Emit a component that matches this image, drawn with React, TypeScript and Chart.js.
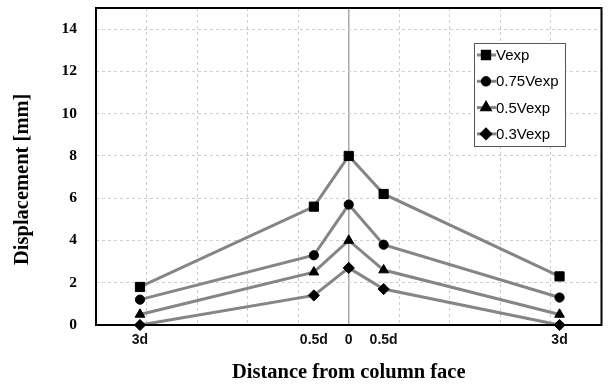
import React, { useEffect, useRef } from 'react';
import { Chart, registerables } from 'chart.js';
import { drawPoint } from 'chart.js/helpers';

Chart.register(...registerables);

// Data
const positionLabels = ['3d', '0.5d', '0', '0.5d', '3d'];
const positions = [-4.13, -0.69, 0, 0.69, 4.17];
const seriesNames = ['Vexp', '0.75Vexp', '0.5Vexp', '0.3Vexp'];
const vexp = [1.8, 5.6, 8.0, 6.2, 2.3];
const v075 = [1.2, 3.3, 5.7, 3.8, 1.3];
const v05 = [0.5, 2.5, 4.0, 2.6, 0.5];
const v03 = [0.0, 1.4, 2.7, 1.7, 0.0];
const xGridValues = [-5, -4, -3, -2, -1, 0, 1, 2, 3, 4, 5];
const yMin = 0;
const yMax = 15;
const yStep = 2;

const seriesValues = [vexp, v075, v05, v03];
const markerStyles = ['rect', 'circle', 'triangle', 'rectRot'];
const markerRadius = [6.5, 4.6, 5.6, 5.6];

const isGrid = (v: number) => xGridValues.some((g) => Math.abs(g - v) < 1e-6);

const framePlugin = {
  id: 'frame',
  afterDraw(chart: any) {
    const { ctx, chartArea } = chart;
    ctx.save();
    ctx.strokeStyle = '#000';
    ctx.lineWidth = 2;
    ctx.strokeRect(chartArea.left, chartArea.top, chartArea.right - chartArea.left, chartArea.bottom - chartArea.top);
    ctx.restore();
  },
};

const legendPlugin = {
  id: 'boxLegend',
  afterDraw(chart: any) {
    const { ctx } = chart;
    const bx = 474, by = 43, bw = 91, bh = 103;
    ctx.save();
    ctx.fillStyle = '#fff';
    ctx.fillRect(bx, by, bw, bh);
    ctx.strokeStyle = '#555';
    ctx.lineWidth = 1;
    ctx.strokeRect(bx + 0.5, by + 0.5, bw, bh);
    chart.data.datasets.forEach((ds: any, i: number) => {
      const y = by + 12 + i * 26.3;
      ctx.strokeStyle = ds.borderColor;
      ctx.lineWidth = 3;
      ctx.beginPath();
      ctx.moveTo(bx + 3, y);
      ctx.lineTo(bx + 22, y);
      ctx.stroke();
      ctx.fillStyle = '#000';
      ctx.strokeStyle = '#000';
      drawPoint(ctx, { pointStyle: ds.pointStyle, radius: ds.pointRadius * 0.8, rotation: 0, borderWidth: 1 }, bx + 12, y);
      ctx.fillStyle = '#000';
      ctx.font = '15px "Liberation Sans"';
      ctx.textAlign = 'left';
      ctx.textBaseline = 'middle';
      ctx.fillText(ds.label, bx + 22, y + 1);
    });
    ctx.restore();
  },
};

const zeroPadding = (scale: any) => {
  scale.paddingTop = 0;
  scale.paddingBottom = 0;
  scale.paddingLeft = 0;
  scale.paddingRight = 0;
};

export default function App() {
  const ref = useRef<HTMLCanvasElement | null>(null);

  useEffect(() => {
    if (!ref.current) return;
    const datasets = seriesNames.map((name, i) => ({
      label: name,
      data: positions.map((x, j) => ({ x, y: seriesValues[i][j] })),
      borderColor: '#858585',
      borderWidth: 3,
      backgroundColor: '#000',
      pointBackgroundColor: '#000',
      pointBorderColor: '#000',
      pointBorderWidth: 1,
      pointStyle: markerStyles[i],
      pointRadius: markerRadius[i],
      showLine: true,
      clip: false,
    }));

    const chart = new Chart(ref.current, {
      type: 'scatter',
      data: { datasets },
      options: {
        animation: false,
        responsive: false,
        layout: { padding: { top: 8, right: 0, left: 0, bottom: 0 } },
        plugins: {
          legend: { display: false },
          tooltip: { enabled: false },
        },
        scales: {
          x: {
            type: 'linear',
            min: -5,
            max: 5,
            afterBuildTicks: (scale: any) => {
              const vals = [...xGridValues];
              positions.forEach((p) => {
                if (!vals.some((v) => Math.abs(v - p) < 1e-6)) vals.push(p);
              });
              vals.sort((a, b) => a - b);
              scale.ticks = vals.map((value) => ({ value }));
            },
            afterFit: (scale: any) => {
              scale.height = 60;
              zeroPadding(scale);
            },
            grid: {
              drawTicks: false,
              color: (c: any) => {
                const v = c.tick ? c.tick.value : NaN;
                if (!isGrid(v)) return 'rgba(0,0,0,0)';
                return Math.abs(v) < 1e-6 ? '#a8a8a8' : '#cdcdcd';
              },
              lineWidth: (c: any) => {
                const v = c.tick ? c.tick.value : NaN;
                return Math.abs(v) < 1e-6 ? 1.5 : 1;
              },
            },
            border: {
              display: false,
              dash: (c: any) => {
                const v = c.tick ? c.tick.value : NaN;
                return Math.abs(v) < 1e-6 ? [] : [3, 3];
              },
            },
            ticks: {
              autoSkip: false,
              maxRotation: 0,
              minRotation: 0,
              padding: 7,
              color: '#111',
              font: { family: '"Liberation Sans"', size: 14, weight: 'bold' },
              callback: (value: any) => {
                const idx = positions.findIndex((p) => Math.abs(p - Number(value)) < 1e-6);
                return idx >= 0 ? positionLabels[idx] : '';
              },
            },
            title: {
              display: true,
              text: 'Distance from column face',
              color: '#000',
              font: { family: '"Liberation Serif"', size: 20.5, weight: 'bold' },
              padding: { top: 0, bottom: 0 },
            },
          },
          y: {
            type: 'linear',
            min: yMin,
            max: yMax,
            afterFit: (scale: any) => {
              scale.width = 96;
              zeroPadding(scale);
            },
            grid: {
              drawTicks: false,
              color: '#cdcdcd',
            },
            border: { display: false, dash: [3, 3] },
            ticks: {
              stepSize: yStep,
              padding: 19,
              color: '#000',
              font: { family: '"Liberation Serif"', size: 15.5, weight: 'bold' },
              callback: (value: any) => (Number(value) % yStep === 0 ? String(value) : ''),
            },
            title: {
              display: true,
              text: 'Displacement [mm]     ',
              color: '#000',
              font: { family: '"Liberation Serif"', size: 20.5, weight: 'bold' },
              padding: { top: 10, bottom: 0 },
            },
          },
        },
      },
      plugins: [framePlugin, legendPlugin],
    });
    return () => chart.destroy();
  }, []);

  return (
    <div style={{ position: 'absolute', left: 0, top: 0, width: 609, height: 385, background: '#fff' }}>
      <canvas ref={ref} width={609} height={385} />
    </div>
  );
}
